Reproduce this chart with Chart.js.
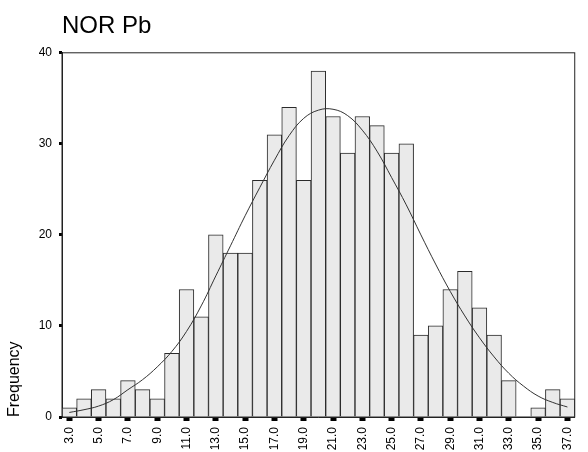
<!DOCTYPE html>
<html>
<head>
<meta charset="utf-8">
<title>NOR Pb</title>
<script src="https://cdn.jsdelivr.net/npm/chart.js@4.4.1/dist/chart.umd.min.js"></script>
<style>
    html, body { margin: 0; padding: 0; background: #fff; }
    #wrap { width: 588px; height: 452px; position: relative; }
</style>
</head>
<body>
<div id="wrap"><canvas id="histChart"></canvas></div>
<script>
// Datos del histograma
const binCenters = [3, 4, 5, 6, 7, 8, 9, 10, 11, 12, 13, 14, 15, 16, 17, 18, 19, 20,
    21, 22, 23, 24, 25, 26, 27, 28, 29, 30, 31, 32, 33, 34, 35, 36, 37];
const frequencies = [1, 2, 3, 2, 4, 3, 2, 7, 14, 11, 20, 18, 18, 26, 31, 34, 26, 38,
    33, 29, 33, 32, 29, 30, 9, 10, 14, 16, 12, 9, 4, 0, 1, 3, 2];
const normalCurve = [0.5, 0.8, 1.2, 1.9, 3.0, 4.1, 5.5, 7.2, 9.4, 12.2, 15.5, 18.8, 22.1, 25.2,
    28.2, 30.9, 32.8, 33.7, 33.8, 33.1, 31.5, 29.2, 26.3, 23.3, 20.0, 16.8, 13.8, 11.1,
    8.7, 6.6, 4.8, 3.4, 2.3, 1.6, 1.1];
const xTickValues = [3, 5, 7, 9, 11, 13, 15, 17, 19, 21, 23, 25, 27, 29, 31, 33, 35, 37];
const xTickLabels = ['3.0', '5.0', '7.0', '9.0', '11.0', '13.0', '15.0', '17.0', '19.0',
    '21.0', '23.0', '25.0', '27.0', '29.0', '31.0', '33.0', '35.0', '37.0'];
const yTickValues = [0, 10, 20, 30, 40];

document.addEventListener('DOMContentLoaded', () => {
    const fontFamily = "'Liberation Sans', Arial, sans-serif";

    // Marco alrededor del área del gráfico
    const framePlugin = {
        id: 'frame',
        afterDraw(chart) {
            const { ctx, chartArea } = chart;
            ctx.save();
            ctx.strokeStyle = '#222';
            ctx.lineWidth = 1;
            ctx.strokeRect(chartArea.left, chartArea.top,
                chartArea.right - chartArea.left, chartArea.bottom - chartArea.top);
            ctx.restore();
        }
    };

    const ctx = document.getElementById('histChart').getContext('2d');
    new Chart(ctx, {
        type: 'bar',
        data: {
            datasets: [
                {
                    type: 'line',
                    label: 'Normal',
                    data: binCenters.map((x, i) => ({ x: x, y: normalCurve[i] })),
                    borderColor: '#333',
                    borderWidth: 1,
                    pointRadius: 0,
                    tension: 0.4,
                    fill: false,
                    order: 0
                },
                {
                    label: 'Frequency',
                    data: binCenters.map((x, i) => ({ x: x, y: frequencies[i] })),
                    backgroundColor: '#eaeaea',
                    borderColor: '#2a2a2a',
                    borderWidth: 1,
                    borderSkipped: 'bottom',
                    barPercentage: 1.0,
                    categoryPercentage: 1.0,
                    order: 1
                }
            ]
        },
        options: {
            responsive: true,
            maintainAspectRatio: false,
            animation: false,
            layout: { padding: { left: 0, right: 5, top: 0, bottom: 0 } },
            plugins: {
                legend: { display: false },
                tooltip: { enabled: false },
                title: {
                    display: true,
                    text: 'NOR Pb',
                    align: 'start',
                    fullSize: false,
                    color: '#000',
                    font: { family: fontFamily, size: 24, weight: 'normal' },
                    padding: { top: 12, bottom: 12 }
                }
            },
            scales: {
                x: {
                    type: 'linear',
                    min: 2.5,
                    max: 37.5,
                    offset: false,
                    grid: {
                        offset: false,
                        drawOnChartArea: false,
                        drawTicks: true,
                        tickLength: 4,
                        tickWidth: 6,
                        tickColor: '#000'
                    },
                    border: { display: true, color: '#222', width: 1 },
                    afterBuildTicks: (axis) => {
                        axis.ticks = xTickValues.map(v => ({ value: v }));
                    },
                    afterFit: (scale) => { scale.height = 35; },
                    ticks: {
                        autoSkip: false,
                        minRotation: 90,
                        maxRotation: 90,
                        padding: 6,
                        color: '#000',
                        font: { family: fontFamily, size: 12 },
                        callback: (value, index) => xTickLabels[index]
                    }
                },
                y: {
                    min: 0,
                    max: 40,
                    grid: {
                        drawOnChartArea: false,
                        drawTicks: true,
                        tickLength: 3,
                        tickWidth: 3,
                        tickColor: '#000'
                    },
                    border: { display: true, color: '#222', width: 1 },
                    afterBuildTicks: (axis) => {
                        axis.ticks = yTickValues.map(v => ({ value: v }));
                    },
                    afterFit: (scale) => { scale.width = 62; },
                    ticks: {
                        padding: 7,
                        color: '#000',
                        font: { family: fontFamily, size: 12 }
                    },
                    title: {
                        display: true,
                        text: 'Frequency',
                        align: 'start',
                        color: '#000',
                        font: { family: fontFamily, size: 16 },
                        padding: { top: 5, bottom: 0 }
                    }
                }
            }
        },
        plugins: [framePlugin]
    });
});
</script>
</body>
</html>
